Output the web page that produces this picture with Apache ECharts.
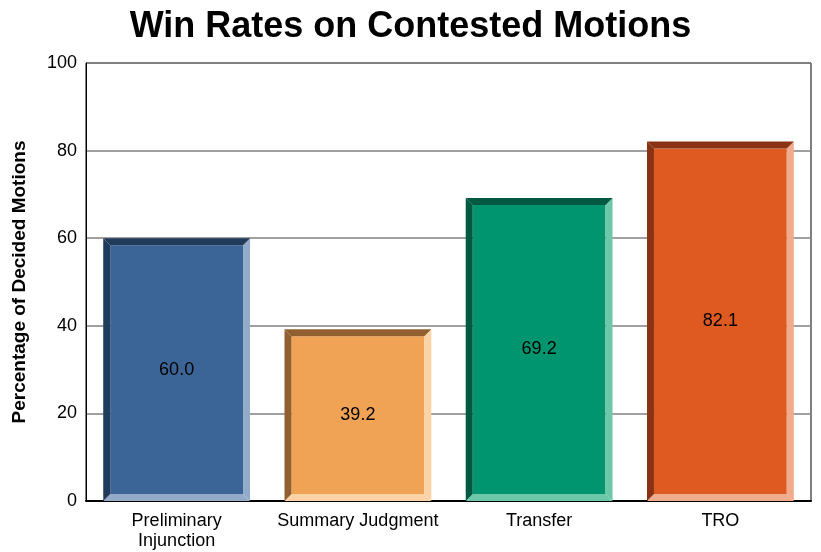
<!DOCTYPE html>
<html>
<head>
<meta charset="utf-8">
<script src="https://cdn.jsdelivr.net/npm/echarts@6/dist/echarts.min.js"></script>
<style>
  html, body { margin: 0; padding: 0; background: #fff; }
  #chart { width: 821px; height: 552px; }
</style>
</head>
<body>
<div id="chart"></div>
<script>
// data
const categories = ["Preliminary\nInjunction", "Summary Judgment", "Transfer", "TRO"];
const winRates = [60.0, 39.2, 69.2, 82.1];
// face / dark edge (top+left) / light edge (right+bottom)
const faceColors = ["#3a6596", "#f0a355", "#00946f", "#de5a20"];
const darkColors = ["#213b5a", "#926030", "#005a42", "#8a3314"];
const lightColors = ["#93aac8", "#fbd3a6", "#6cc8a8", "#f0ab8c"];

const chart = echarts.init(document.getElementById("chart"));

const BEVEL = 7;

function renderBar(params, api) {
  const idx = params.dataIndex;
  const topPt = api.coord([api.value(0), api.value(1)]);
  const basePt = api.coord([api.value(0), 0]);
  const w = api.size([1, 0])[0] * 0.81;
  const l = topPt[0] - w / 2, r = topPt[0] + w / 2;
  const t = topPt[1], b = basePt[1];
  const k = BEVEL;
  return {
    type: "group",
    children: [
      { type: "rect", shape: { x: l + k, y: t + k, width: w - 2 * k, height: b - t - 2 * k }, style: { fill: faceColors[idx] } },
      { type: "polygon", shape: { points: [[r, t], [r, b], [r - k, b - k], [r - k, t + k]] }, style: { fill: lightColors[idx] } },
      { type: "polygon", shape: { points: [[l, b], [r, b], [r - k, b - k], [l + k, b - k]] }, style: { fill: lightColors[idx] } },
      { type: "polygon", shape: { points: [[l, t], [r, t], [r - k, t + k], [l + k, t + k]] }, style: { fill: darkColors[idx] } },
      { type: "polygon", shape: { points: [[l, t], [l + k, t + k], [l + k, b - k], [l, b]] }, style: { fill: darkColors[idx] } },
      {
        type: "text",
        x: topPt[0], y: (t + b) / 2,
        style: {
          text: api.value(1).toFixed(1),
          fill: "#000",
          font: "18px 'Liberation Sans', Arial, sans-serif",
          align: "center",
          verticalAlign: "middle"
        }
      }
    ]
  };
}

chart.setOption({
  animation: false,
  textStyle: { fontFamily: "'Liberation Sans', Arial, sans-serif" },
  title: {
    text: "Win Rates on Contested Motions",
    left: "center",
    top: 4,
    textStyle: { fontSize: 36, fontWeight: "bold", color: "#000" }
  },
  grid: {
    left: 86, right: 10, top: 63, bottom: 51,
    show: true, borderColor: "#000", borderWidth: 1
  },
  xAxis: {
    type: "category",
    data: categories,
    axisLine: { lineStyle: { color: "#000", width: 2 } },
    axisTick: { show: false },
    axisLabel: { color: "#000", fontSize: 18, margin: 10, lineHeight: 20, interval: 0, hideOverlap: false }
  },
  yAxis: {
    type: "value",
    min: 0, max: 100, interval: 20,
    name: "Percentage of Decided Motions",
    nameLocation: "middle",
    nameGap: 57,
    nameTextStyle: { fontSize: 19, fontWeight: "bold", color: "#000" },
    axisLine: { show: true, lineStyle: { color: "#000" } },
    axisTick: { show: false },
    axisLabel: { color: "#000", fontSize: 18, margin: 9 },
    splitLine: { lineStyle: { color: "#808080", width: 1.5 } }
  },
  series: [{
    type: "custom",
    renderItem: renderBar,
    encode: { x: 0, y: 1 },
    data: winRates.map((v, i) => [i, v])
  }]
});
</script>
</body>
</html>
